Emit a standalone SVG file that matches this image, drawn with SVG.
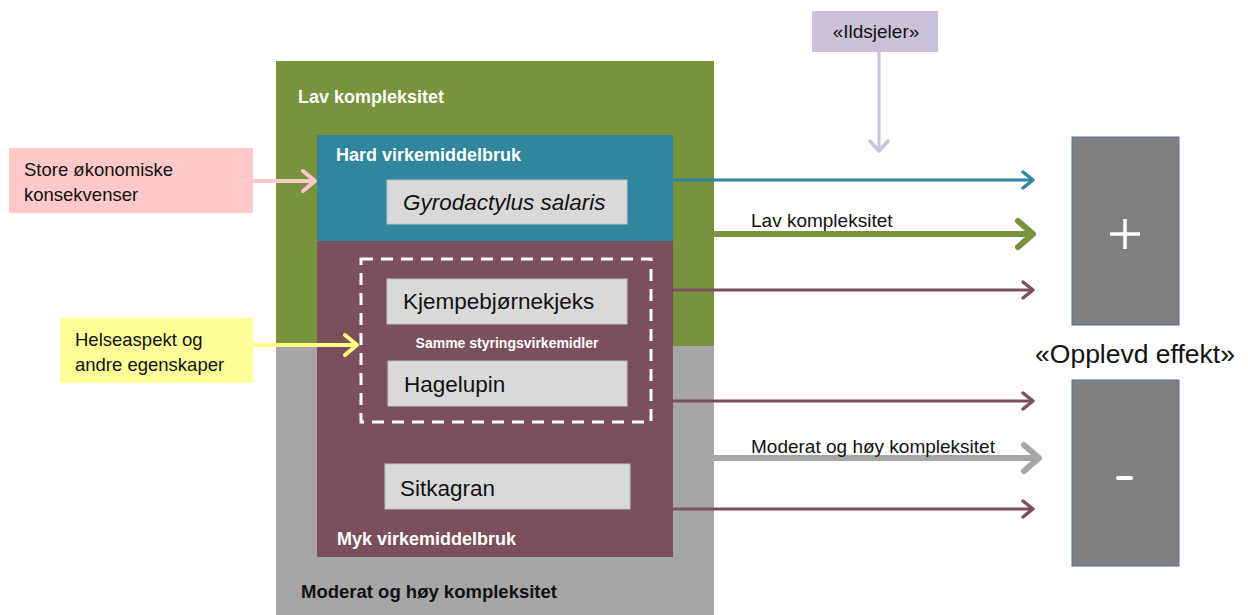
<svg xmlns="http://www.w3.org/2000/svg" width="1248" height="615" viewBox="0 0 1248 615">
<style>
text{font-family:"Liberation Sans",Arial,sans-serif}
.hdr{font-weight:bold;fill:#fff;font-size:18px}
.blk{fill:#111;font-size:18.5px}
.box{fill:#D9D9D9;stroke:#B8C4CC;stroke-width:1}
.item{fill:#111;font-size:22.5px}
.lbl{fill:#111;font-size:19px}
.ln{fill:none;stroke-linecap:butt}
</style>
<defs>
<marker id="mTeal" markerUnits="userSpaceOnUse" markerWidth="22" markerHeight="22" viewBox="0 0 22 22" refX="19" refY="11" orient="auto"><path d="M9,3 L19,11 L9,19" fill="none" stroke="#31859C" stroke-width="3.5" stroke-linecap="round" stroke-linejoin="round"/></marker>
<marker id="mMar" markerUnits="userSpaceOnUse" markerWidth="22" markerHeight="22" viewBox="0 0 22 22" refX="19" refY="11" orient="auto"><path d="M9,3 L19,11 L9,19" fill="none" stroke="#7B505C" stroke-width="3.5" stroke-linecap="round" stroke-linejoin="round"/></marker>
<marker id="mGreen" markerUnits="userSpaceOnUse" markerWidth="36" markerHeight="36" viewBox="0 0 36 36" refX="33" refY="18" orient="auto"><path d="M18,5 L33,18 L18,31" fill="none" stroke="#77933C" stroke-width="6" stroke-linecap="round" stroke-linejoin="round"/></marker>
<marker id="mGray" markerUnits="userSpaceOnUse" markerWidth="36" markerHeight="36" viewBox="0 0 36 36" refX="33" refY="18" orient="auto"><path d="M18,5 L33,18 L18,31" fill="none" stroke="#A6A6A6" stroke-width="6" stroke-linecap="round" stroke-linejoin="round"/></marker>
<marker id="mPink" markerUnits="userSpaceOnUse" markerWidth="26" markerHeight="26" viewBox="0 0 26 26" refX="22" refY="13" orient="auto"><path d="M10,3 L22,13 L10,23" fill="none" stroke="#FFC9C9" stroke-width="4" stroke-linecap="round" stroke-linejoin="round"/></marker>
<marker id="mYel" markerUnits="userSpaceOnUse" markerWidth="26" markerHeight="26" viewBox="0 0 26 26" refX="22" refY="13" orient="auto"><path d="M10,3 L22,13 L10,23" fill="none" stroke="#FFFF88" stroke-width="4" stroke-linecap="round" stroke-linejoin="round"/></marker>
<marker id="mLav" markerUnits="userSpaceOnUse" markerWidth="24" markerHeight="24" viewBox="0 0 24 24" refX="20" refY="12" orient="auto"><path d="M10,3 L20,12 L10,21" fill="none" stroke="#CCC1DA" stroke-width="3.5" stroke-linecap="round" stroke-linejoin="round"/></marker>
</defs>

<g id="lav-kompleksitet">
<rect x="276" y="61" width="438" height="285" fill="#77933C"/>
<text class="hdr" x="298" y="103">Lav kompleksitet</text>
</g>
<g id="moderat-kompleksitet">
<rect x="276" y="346" width="438" height="269" fill="#A6A6A6"/>
<text x="301" y="598" font-size="18.5" font-weight="bold" fill="#111">Moderat og høy kompleksitet</text>
</g>
<g id="hard-virkemiddelbruk">
<rect x="317" y="135" width="356" height="106" fill="#31859C"/>
<text class="hdr" x="336" y="161">Hard virkemiddelbruk</text>
</g>
<g id="myk-virkemiddelbruk">
<rect x="317" y="241" width="356" height="316" fill="#7B505C"/>
<text class="hdr" x="337" y="545" font-size="18.5">Myk virkemiddelbruk</text>
</g>
<g id="gyrodactylus">
<rect class="box" x="387" y="180" width="240" height="44"/>
<text class="item" x="403" y="210" font-style="italic">Gyrodactylus salaris</text>
</g>
<g id="samme-styringsvirkemidler">
<rect x="361" y="259" width="290" height="163" fill="none" stroke="#fff" stroke-width="3" stroke-dasharray="12 8"/>
<text x="507" y="348" text-anchor="middle" font-size="14" font-weight="bold" fill="#fff">Samme styringsvirkemidler</text>
</g>
<g id="kjempebjornekjeks">
<rect class="box" x="387" y="279" width="240" height="45"/>
<text class="item" x="403" y="309">Kjempebjørnekjeks</text>
</g>
<g id="hagelupin">
<rect class="box" x="388" y="361" width="239" height="45"/>
<text class="item" x="404" y="392">Hagelupin</text>
</g>
<g id="sitkagran">
<rect class="box" x="385" y="464" width="245" height="45"/>
<text class="item" x="400" y="496">Sitkagran</text>
</g>
<g id="store-okonomiske">
<rect x="9" y="148" width="244" height="65" fill="#FFC9C9"/>
<text class="blk" x="24" y="176" font-size="19">Store økonomiske</text>
<text class="blk" x="24" y="201" font-size="19">konsekvenser</text>
</g>
<g id="helseaspekt">
<rect x="60" y="318" width="193" height="65" fill="#FFFF99"/>
<text class="blk" x="75" y="346">Helseaspekt og</text>
<text class="blk" x="75" y="371">andre egenskaper</text>
</g>
<g id="ildsjeler">
<rect x="812" y="11" width="126" height="41" fill="#CCC1DA"/>
<text x="876" y="38" text-anchor="middle" font-size="19" fill="#111">«Ildsjeler»</text>
</g>
<g id="pluss">
<rect x="1072" y="137" width="107" height="188" fill="#808080" stroke="#4F6E9A" stroke-width="1"/>
<path d="M1125,219 V249 M1110,234 H1140" stroke="#fff" stroke-width="3.5"/>
</g>
<g id="opplevd-effekt">
<text x="1135" y="363" text-anchor="middle" font-size="26.5" fill="#111">«Opplevd effekt»</text>
</g>
<g id="minus">
<rect x="1072" y="380" width="107" height="186" fill="#808080" stroke="#4F6E9A" stroke-width="1"/>
<path d="M1118,478 H1131" stroke="#fff" stroke-width="4" stroke-linecap="round"/>
</g>

<g id="connectors">
<line class="ln" x1="253" y1="181" x2="315" y2="181" stroke="#FFC9C9" stroke-width="4" marker-end="url(#mPink)"/>
<line class="ln" x1="253" y1="345" x2="357" y2="345" stroke="#FFFF88" stroke-width="4" marker-end="url(#mYel)"/>
<line class="ln" x1="879" y1="52" x2="879" y2="151" stroke="#CCC1DA" stroke-width="3" marker-end="url(#mLav)"/>
<line class="ln" x1="673" y1="180" x2="1033" y2="180" stroke="#31859C" stroke-width="3" marker-end="url(#mTeal)"/>
<line class="ln" x1="714" y1="234" x2="1033" y2="234" stroke="#77933C" stroke-width="6" marker-end="url(#mGreen)"/>
<line class="ln" x1="673" y1="290" x2="1033" y2="290" stroke="#7B505C" stroke-width="3" marker-end="url(#mMar)"/>
<line class="ln" x1="673" y1="401" x2="1033" y2="401" stroke="#7B505C" stroke-width="3" marker-end="url(#mMar)"/>
<line class="ln" x1="714" y1="458" x2="1039" y2="458" stroke="#A6A6A6" stroke-width="6" marker-end="url(#mGray)"/>
<line class="ln" x1="673" y1="509" x2="1033" y2="509" stroke="#7B505C" stroke-width="3" marker-end="url(#mMar)"/>
<text class="lbl" x="751" y="227">Lav kompleksitet</text>
<text class="lbl" x="751" y="453">Moderat og høy kompleksitet</text>
</g>
</svg>
